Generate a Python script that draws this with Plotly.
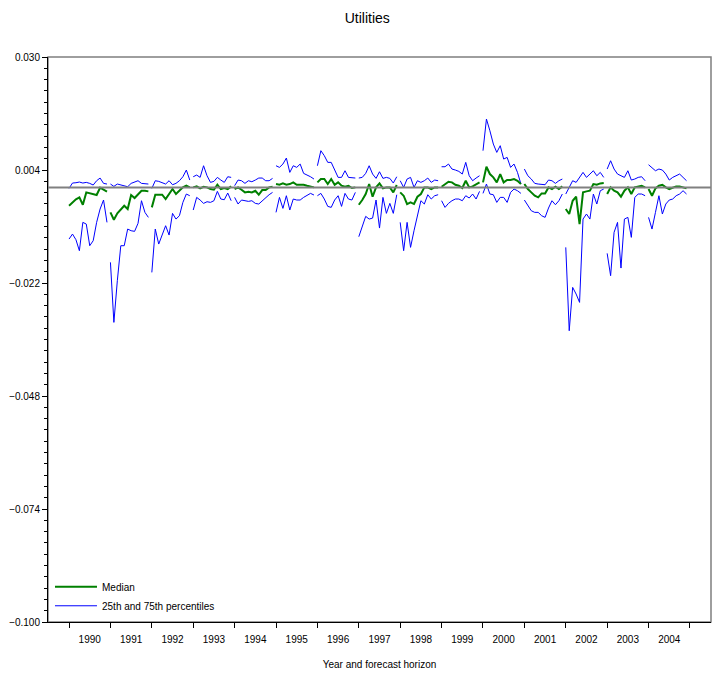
import plotly.graph_objects as go

years = [1990, 1991, 1992, 1993, 1994, 1995, 1996, 1997, 1998, 1999,
         2000, 2001, 2002, 2003, 2004]
horizons = list(range(12))  # forecast horizon index within each year

# values in units of 1e-3
median = [
    [-4.22, -3.53, -2.76, -2.30, -3.99, -1.15, -1.38, -1.53, -1.76, -0.08, -0.61, -1.00],
    [-5.75, -7.44, -5.98, -4.98, -4.22, -4.98, -1.76, -2.45, -1.53, -0.77, -0.77, -0.92],
    [-4.60, -1.69, -1.69, -1.69, -2.68, -1.53, -0.38, -1.53, -0.77, 0.00, 0.38, 0.00],
    [0.00, 0.23, -0.23, 0.15, 0.00, -0.38, -0.54, 0.61, -0.38, -0.15, -0.38, 0.23],
    [-0.38, 0.00, -0.54, -1.15, -1.00, -1.15, -0.77, -1.69, -0.61, -0.61, 0.00, 0.15],
    [0.77, 0.61, 0.92, 0.61, 0.77, 1.15, 0.61, 0.61, 0.61, 0.38, 0.23, 0.00],
    [1.15, 1.92, 1.92, 0.77, 1.92, 0.61, 1.15, 0.38, 0.15, 0.38, -0.15, 0.00],
    [-3.99, -2.91, -1.53, 0.77, -2.15, 0.00, 0.92, -0.23, 0.00, 0.00, -1.15, 0.54],
    [-1.15, -1.92, -3.83, -3.45, -3.83, -2.15, -1.53, 0.00, 0.00, -0.38, 0.00, 0.00],
    [0.15, 0.77, 1.30, 1.15, 0.61, 0.38, -0.15, 1.53, 0.00, 0.23, 0.77, 1.15],
    [1.15, 4.75, 3.07, 2.30, 1.15, 3.07, 1.15, 1.69, 1.69, 1.92, 1.53, 0.77],
    [0.77, -0.38, -1.15, -1.92, -2.30, -1.38, -1.38, 0.00, -0.38, 0.15, -0.38, 0.23],
    [-4.98, -6.13, -3.07, -2.15, -8.44, -1.15, -0.92, -0.77, 0.77, 0.61, 0.92, 1.00],
    [-1.53, 0.00, -0.77, -1.15, -2.15, -0.77, 0.00, -1.53, 0.00, 0.15, 0.38, 0.00],
    [-0.38, -1.92, -0.23, 0.38, 0.61, 0.00, -0.38, 0.00, 0.23, 0.23, 0.00, -0.23],
]

p75 = [
    [-0.23, 1.00, 1.07, 1.23, 1.00, 1.15, 0.92, 0.54, 1.53, 2.15, 0.92, 0.77],
    [0.77, 0.23, 0.77, 0.61, 0.38, 0.15, 0.92, 1.15, 1.53, 0.92, 0.77, 0.77],
    [-0.23, 1.53, 1.38, 1.15, 0.77, 1.53, 0.61, 0.92, 1.53, 2.45, 3.99, 1.69],
    [2.45, 2.84, 2.30, 4.98, 2.68, 1.15, 1.38, 2.30, 1.69, 1.15, 2.45, 2.30],
    [0.38, 1.69, 1.53, 0.92, 1.53, 1.30, 1.69, 2.15, 2.15, 1.53, 1.53, 2.07],
    [4.98, 4.60, 5.37, 6.75, 3.45, 4.98, 4.60, 5.37, 3.22, 2.91, 2.45, 1.92],
    [4.98, 8.44, 7.29, 5.75, 5.75, 3.83, 2.30, 2.30, 3.83, 2.30, 2.15, 2.15],
    [2.15, 2.30, 3.22, 4.98, 3.07, 2.07, 3.60, 2.07, 2.30, 2.07, 1.00, 2.45],
    [1.53, 0.00, 1.92, 2.30, 0.00, 1.53, 1.15, 1.53, 2.15, 1.15, 1.69, 1.53],
    [4.75, 4.75, 5.37, 4.22, 3.99, 3.68, 3.07, 5.75, 2.68, 1.53, 2.15, 2.68],
    [8.44, 15.72, 13.04, 9.97, 8.05, 9.59, 6.52, 6.90, 4.60, 5.37, 3.45, 0.77],
    [4.22, 2.68, 1.92, 0.92, 0.77, 0.77, 0.61, 1.69, 1.53, 0.92, 1.53, 1.92],
    [-1.53, 0.00, 1.53, 1.15, 2.30, 3.45, 2.30, 3.07, 3.83, 2.68, 3.45, 2.30],
    [4.22, 6.13, 4.22, 3.07, 2.68, 2.30, 3.83, 1.69, 1.92, 2.30, 2.45, 1.53],
    [5.21, 4.60, 3.83, 4.22, 3.99, 3.07, 1.69, 2.30, 2.68, 3.07, 2.30, 1.53],
]

p25 = [
    [-11.89, -10.74, -12.04, -14.57, -8.05, -8.44, -13.42, -12.27, -8.05, -4.98, -2.91, -8.05],
    [-17.25, -31.06, -21.47, -13.42, -13.42, -9.59, -9.97, -10.12, -8.28, -3.07, -5.75, -6.90],
    [-19.56, -9.59, -13.04, -10.97, -8.82, -10.97, -5.98, -7.29, -6.52, -3.45, -1.53, -1.92],
    [-5.21, -2.30, -2.91, -3.68, -3.30, -3.45, -3.07, -0.92, -2.68, -2.84, -1.30, -3.07],
    [-2.30, -3.83, -2.91, -3.07, -3.22, -3.07, -3.68, -3.83, -3.07, -2.30, -1.69, -1.15],
    [-5.75, -2.30, -4.83, -1.92, -5.21, -2.68, -2.91, -2.91, -2.30, -1.92, -1.38, -1.76],
    [-1.92, -1.38, -2.68, -4.37, -4.60, -2.91, -1.92, -4.37, -1.38, -2.68, -2.91, -1.15],
    [-11.35, -8.82, -6.67, -7.29, -7.06, -2.91, -9.36, -2.30, -5.98, -3.68, -5.98, -1.69],
    [-8.05, -14.57, -8.05, -13.80, -9.97, -6.13, -3.07, -3.83, -1.69, -2.68, -1.92, -1.69],
    [-3.07, -4.60, -3.68, -3.07, -2.68, -2.68, -3.07, -1.92, -2.45, -1.53, -2.68, -0.92],
    [-1.38, 0.77, -1.53, -1.69, -3.45, -2.30, -2.30, -3.45, -1.15, -0.38, -0.77, -1.38],
    [-2.91, -4.22, -5.37, -5.75, -5.75, -6.52, -6.90, -4.75, -3.07, -3.99, -3.07, -1.53],
    [-13.80, -32.98, -23.01, -24.54, -26.46, -7.29, -6.13, -7.29, -1.53, -3.83, -0.77, -0.38],
    [-15.18, -20.32, -10.35, -8.05, -18.56, -7.29, -6.90, -11.50, -2.30, -1.53, -1.53, -1.92],
    [-6.90, -9.59, -5.75, -1.92, -6.13, -3.83, -2.91, -2.68, -1.92, -1.53, -0.77, -1.53],
]

y_ticks = [-0.100, -0.074, -0.048, -0.022, 0.004, 0.030]

n_h = len(horizons)


def build(series):
    xs, ys = [], []
    for k, vals in enumerate(series):
        for h, v in zip(horizons, vals):
            xs.append(k * n_h + h)
            ys.append(v / 1000.0)
        xs.append(None)
        ys.append(None)
    return xs, ys


FONT = "Liberation Sans Narrow, Liberation Sans, Arial, sans-serif"

fig = go.Figure()
xm, ym = build(median)
x75, y75 = build(p75)
x25, y25 = build(p25)

fig.add_trace(go.Scatter(x=x75, y=y75, mode="lines", name="25th and 75th percentiles",
                         line=dict(color="#0000ff", width=1), legendgroup="pct",
                         legendrank=2, connectgaps=False))
fig.add_trace(go.Scatter(x=x25, y=y25, mode="lines", name="25th and 75th percentiles",
                         line=dict(color="#0000ff", width=1), legendgroup="pct",
                         showlegend=False, connectgaps=False))
fig.add_trace(go.Scatter(x=xm, y=ym, mode="lines", name="Median",
                         line=dict(color="#008000", width=2), legendrank=1,
                         connectgaps=False))

# reference line at zero
fig.add_shape(type="line", xref="paper", x0=0, x1=1, yref="y", y0=0, y1=0,
              line=dict(color="#808080", width=2), layer="above")
# frame (top/right grey)
fig.add_shape(type="rect", xref="paper", yref="paper", x0=0, x1=1, y0=0, y1=1,
              line=dict(color="#7f7f7f", width=1.5), layer="below")

year_centers = [k * n_h + n_h / 2 for k in range(len(years))]
boundaries = [k * n_h for k in range(len(years) + 1)]

fig.update_layout(
    width=716, height=673,
    margin=dict(l=48, r=5, t=57, b=51),
    paper_bgcolor="white", plot_bgcolor="white",
    font=dict(family=FONT, size=10, color="black"),
    title=dict(text="Utilities", x=0.513, xanchor="center", y=1 - 18 / 673,
               yanchor="middle", yref="container",
               font=dict(family=FONT, size=14, color="black")),
    showlegend=True,
    legend=dict(x=0.003, y=0.088, xanchor="left", yanchor="top",
                bgcolor="rgba(0,0,0,0)", font=dict(size=10, family=FONT),
                tracegroupgap=0, itemwidth=42, traceorder="normal"),
    xaxis=dict(range=[-6.1, 186.1], showgrid=False, zeroline=False,
               showline=True, linecolor="black", linewidth=1,
               tickmode="array", tickvals=year_centers,
               ticktext=[str(y) for y in years], ticks="",
               ticklabelstandoff=8,
               tickfont=dict(size=10),
               minor=dict(tickmode="array", tickvals=boundaries, ticks="outside",
                          ticklen=5, tickcolor="black", tickwidth=1),
               title=dict(text="Year and forecast horizon", standoff=16,
                          font=dict(size=10))),
    yaxis=dict(range=[-0.100, 0.030], showgrid=False, zeroline=False,
               showline=True, linecolor="black", linewidth=1,
               tickmode="array", tickvals=y_ticks, tickformat=".3f",
               ticks="outside", ticklen=5, tickwidth=1, tickcolor="black",
               tickfont=dict(size=10),
               minor=dict(dtick=0.0026, tick0=-0.100, ticks="outside", ticklen=3,
                          tickcolor="black", tickwidth=1)),
)

fig.write_html("out.html")
